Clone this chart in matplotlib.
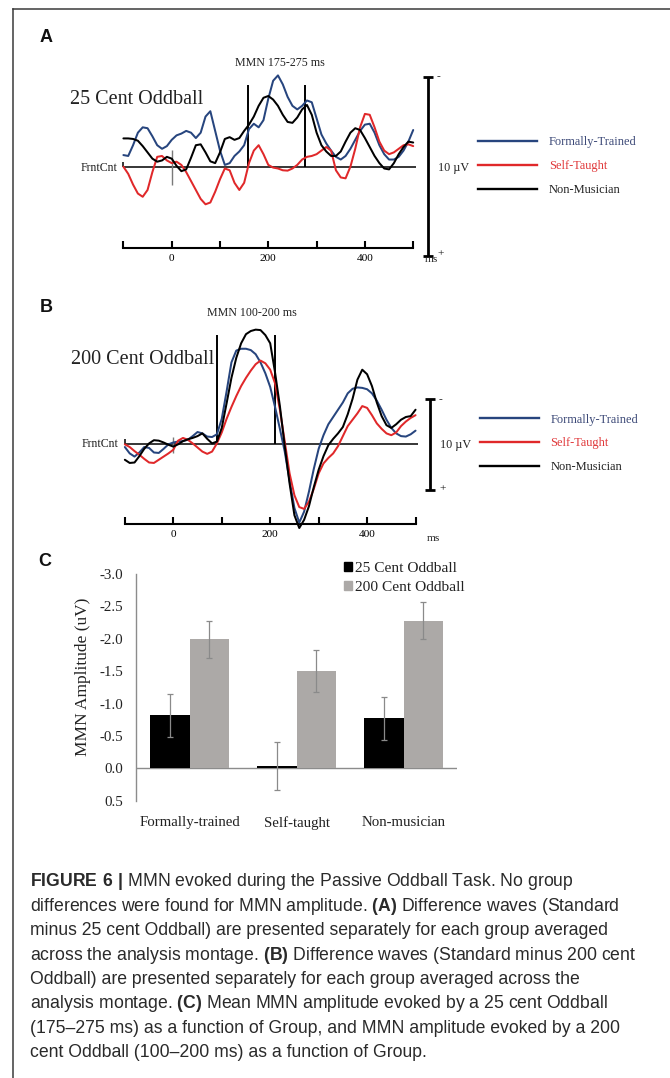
import numpy as np
import matplotlib
matplotlib.use("Agg")
import matplotlib.pyplot as plt
from matplotlib.lines import Line2D
from matplotlib.patches import Patch
from matplotlib.ticker import FormatStrFormatter

plt.rcParams['axes.unicode_minus'] = False
plt.rcParams['mathtext.fontset'] = 'custom'
plt.rcParams['mathtext.bf'] = 'Liberation Sans:bold'
plt.rcParams['mathtext.rm'] = 'Liberation Sans'

SERIF = 'Liberation Serif'
SANS = 'Liberation Sans'

# ---------------- data ----------------
groups = ['Formally-Trained', 'Self-Taught', 'Non-Musician']
line_colors = ['#27457e', '#e0282a', '#000000']
text_colors = ['#3d4a78', '#e0383a', '#222222']

t_ms = np.arange(-100, 501, 10)

# Panel A: Standard minus 25 cent Oddball (uV, negative up)
ft25 = [-0.65, -0.6, -1.2, -1.9, -2.2, -2.15, -1.7, -1.2, -1.0, -1.15,
        -1.5, -1.75, -1.85, -2.0, -1.9, -1.6, -1.9, -2.8, -3.1, -2.0,
        -0.9, -0.1, -0.2, -0.6, -0.85, -1.2, -2.1, -2.4, -2.2, -2.6,
        -3.8, -4.8, -5.1, -4.6, -3.9, -3.4, -3.2, -3.4, -3.7, -3.6,
        -2.7, -1.8, -1.3, -0.9, -0.55, -0.4, -0.6, -1.0, -1.5, -2.0,
        -2.35, -2.4, -1.9, -1.2, -0.7, -0.4, -0.4, -0.55, -0.9, -1.4,
        -2.05]
st25 = [0.0, 0.4, 1.0, 1.5, 1.68, 1.3, 0.3, -0.55, -0.6, -0.35,
        -0.2, -0.28, -0.1, 0.3, 0.8, 1.3, 1.8, 2.1, 2.0, 1.4,
        0.7, 0.1, 0.2, 0.9, 1.3, 0.9, -0.2, -0.9, -1.2, -0.7,
        -0.1, 0.05, 0.1, 0.2, 0.22, 0.1, -0.1, -0.4, -0.55, -0.6,
        -0.7, -0.9, -1.1, -0.9, 0.2, 0.6, 0.65, 0.0, -1.0, -2.2,
        -2.95, -2.9, -2.2, -1.4, -0.9, -0.7, -0.8, -1.0, -1.2, -1.25,
        -1.15]
nm25 = [-1.58, -1.58, -1.55, -1.45, -1.15, -0.8, -0.45, -0.28, -0.35, -0.55,
        -0.45, -0.05, 0.25, 0.15, -0.5, -1.2, -1.25, -0.8, -0.3, -0.2,
        -0.8, -1.55, -1.65, -1.5, -1.6, -2.0, -2.35, -2.8, -3.4, -3.85,
        -3.95, -3.75, -3.4, -2.9, -2.5, -2.45, -2.75, -3.2, -3.45, -2.9,
        -1.9, -1.2, -0.85, -0.6, -0.6, -0.85, -1.4, -1.9, -2.15, -2.05,
        -1.6, -1.1, -0.6, -0.2, 0.1, 0.15, -0.2, -0.7, -1.1, -1.4,
        -1.35]

# Panel B: Standard minus 200 cent Oddball
ft200 = [0.3, 1.0, 1.35, 0.9, 0.3, 0.4, 0.9, 0.95, 0.5, 0.0,
         -0.2, -0.3, -0.35, -0.5, -0.9, -1.35, -1.2, -0.85, -0.8, -1.1,
         -2.8, -5.8, -9.0, -10.3, -10.5, -10.5, -10.35, -9.9, -9.0, -7.8,
         -6.3, -4.1, -1.7, 0.8, 4.0, 7.0, 8.6, 7.4, 5.2, 2.7,
         0.5, -1.0, -2.2, -3.0, -3.8, -4.6, -5.6, -6.1, -6.25, -6.2,
         -6.05, -5.6, -4.8, -3.8, -2.7, -1.8, -1.2, -0.9, -0.85, -1.1,
         -1.5]
st200 = [0.0, 0.3, 0.75, 1.15, 1.6, 2.0, 2.05, 1.7, 1.35, 1.0,
         0.6, -0.4, -0.7, -0.5, -0.1, 0.35, 0.8, 1.05, 0.8, -0.1,
         -1.3, -2.8, -4.1, -5.3, -6.4, -7.3, -8.1, -8.8, -9.2, -8.9,
         -8.2, -6.7, -3.8, -0.3, 3.2, 5.6, 6.9, 7.1, 6.3, 4.9,
         3.2, 2.1, 1.5, 1.0, 0.2, -0.9, -2.0, -2.7, -3.4, -4.2,
         -4.0, -3.2, -2.3, -1.7, -1.2, -1.0, -1.3, -2.0, -2.5, -2.9,
         -3.2]
nm200 = [1.7, 2.05, 2.0, 1.3, 0.5, -0.1, -0.45, -0.4, -0.2, 0.05,
         0.25, 0.0, -0.35, -0.55, -0.7, -0.9, -1.2, -0.6, -0.1, -0.3,
         -1.8, -4.5, -7.3, -9.5, -11.1, -12.1, -12.45, -12.6, -12.55, -12.0,
         -11.1, -7.9, -4.2, 0.2, 4.3, 7.8, 9.2, 8.3, 6.8, 4.7,
         2.8, 1.3, 0.1, -0.6, -1.2, -1.9, -3.3, -5.0, -7.1, -8.2,
         -7.7, -6.4, -4.6, -3.1, -2.1, -1.8, -2.2, -2.7, -3.0, -3.1,
         -3.8]

# Panel C: mean MMN amplitude
categories = ['Formally-trained', 'Self-taught', 'Non-musician']
conditions = ['25 Cent Oddball', '200 Cent Oddball']
amp25 = [-0.82, -0.03, -0.77]
err25 = [0.33, 0.37, 0.33]
amp200 = [-1.99, -1.50, -2.28]
err200 = [0.29, 0.32, 0.29]
yticks_c = [-3.0, -2.5, -2.0, -1.5, -1.0, -0.5, 0.0, 0.5]
xticks_ms = [-100, 0, 100, 200, 300, 400, 500]
xtick_labels_ms = ['', '0', '', '200', '', '400', '']

# ---------------- figure ----------------
W, H = 670, 1078
fig = plt.figure(figsize=(W / 100, H / 100), dpi=100)


def fx(x):
    return x / W


def fy(y):
    return 1 - y / H


def wave_axes(box, x0, sx, y0, sy):
    l, t, r, b = box
    ax = fig.add_axes([fx(l), fy(b), (r - l) / W, (b - t) / H])
    ax.set_xlim((l - x0) / sx, (r - x0) / sx)
    ax.set_ylim((b - y0) / sy, (t - y0) / sy)
    ax.patch.set_visible(False)
    for s in ['top', 'right', 'left']:
        ax.spines[s].set_visible(False)
    ax.set_yticks([])
    return ax


def wave_panel(ax, series, axis_uv, win, win_top, zero_tick, cal_ms, tick_up,
               title, mmn_text, mmn_xy, title_xy, leg_xy, uv_xy, ms_xy, plus_xy,
               minus_xy, frnt_xy, start_tick):
    for vals, c in zip(series, line_colors):
        ax.plot(t_ms, vals, color=c, lw=1.45, solid_capstyle='round', zorder=3)
    # baseline
    ax.hlines(0, t_ms[0], t_ms[-1] + 5, color='black', lw=1.1, zorder=2)
    ax.vlines(t_ms[0], -start_tick, 0, color='black', lw=1.1)
    # zero tick (grey)
    ax.vlines(0, zero_tick[0], zero_tick[1], color='#7a7a7a', lw=1.0, zorder=2)
    # MMN window
    ax.vlines(win, win_top, 0, color='black', lw=1.4, zorder=2)
    # x axis (bottom spine placed at data level)
    sp = ax.spines['bottom']
    sp.set_position(('data', axis_uv))
    sp.set_bounds(t_ms[0], t_ms[-1])
    sp.set_linewidth(1.5)
    ax.set_xticks(xticks_ms)
    ax.set_xticklabels(xtick_labels_ms, fontsize=8.2, family=SERIF)
    ax.tick_params(axis='x', direction='in', length=tick_up, width=1.5, pad=4)
    # calibration bar
    ax.vlines(cal_ms, -5, 5, color='black', lw=2.0, clip_on=False)
    ax.hlines([-5, 5], cal_ms - 10, cal_ms + 10, color='black', lw=2.0, clip_on=False)
    # texts (pixel positions)
    fig.text(fx(mmn_xy[0]), fy(mmn_xy[1]), mmn_text, fontsize=8.6, family=SERIF,
             ha='center', va='center', color='#222222')
    fig.text(fx(title_xy[0]), fy(title_xy[1]), title, fontsize=14.5, family=SERIF,
             ha='left', va='center', color='#222222')
    fig.text(fx(frnt_xy[0]), fy(frnt_xy[1]), 'FrntCnt', fontsize=8.6, family=SERIF,
             ha='right', va='center', color='#222222')
    fig.text(fx(uv_xy[0]), fy(uv_xy[1]), '10 µV', fontsize=8.7, family=SERIF,
             ha='left', va='center', color='#222222')
    fig.text(fx(ms_xy[0]), fy(ms_xy[1]), 'ms', fontsize=8.2, family=SERIF,
             ha='left', va='center', color='#222222')
    fig.text(fx(plus_xy[0]), fy(plus_xy[1]), '+', fontsize=8.2, family=SERIF,
             ha='left', va='center', color='#222222')
    fig.text(fx(minus_xy[0]), fy(minus_xy[1]), '-', fontsize=8.2, family=SERIF,
             ha='left', va='center', color='#222222')
    handles = [Line2D([], [], color=c, lw=1.7) for c in line_colors]
    leg = ax.legend(handles, groups, loc='upper left',
                    bbox_to_anchor=(fx(leg_xy[0]), fy(leg_xy[1])),
                    bbox_transform=fig.transFigure, frameon=False,
                    prop={'family': SERIF, 'size': 8.9},
                    handlelength=4.75, handletextpad=0.95, labelspacing=0.97,
                    borderpad=0, borderaxespad=0)
    for t, c in zip(leg.get_texts(), text_colors):
        t.set_color(c)


# Panel A
axA = wave_axes((55, 25, 668, 280), 171.7, 0.483, 166.7, 17.9)
wave_panel(axA, [ft25, st25, nm25], axis_uv=4.56, win=[157, 277], win_top=-4.56,
           zero_tick=(-0.93, 1.02), cal_ms=531, tick_up=5,
           title='25 Cent Oddball', mmn_text='MMN 175-275 ms', mmn_xy=(280, 62.7),
           title_xy=(70, 100), leg_xy=(478.3, 136.5), uv_xy=(438, 168),
           ms_xy=(425, 259), plus_xy=(437, 254), minus_xy=(436.5, 77),
           frnt_xy=(118, 168), start_tick=0.28)

# Panel B
axB = wave_axes((55, 300, 668, 545), 173.3, 0.4845, 444.3, 9.1)
wave_panel(axB, [ft200, st200, nm200], axis_uv=8.79, win=[90, 210], win_top=-12.0,
           zero_tick=(-0.84, 1.0), cal_ms=530, tick_up=5,
           title='200 Cent Oddball', mmn_text='MMN 100-200 ms', mmn_xy=(251.7, 312.7),
           title_xy=(70.7, 360), leg_xy=(480, 413.5), uv_xy=(440, 445),
           ms_xy=(427, 538.3), plus_xy=(439, 488.5), minus_xy=(439, 399.5),
           frnt_xy=(119, 444.3), start_tick=0.55)

# Panel C
axC = fig.add_axes([fx(136), fy(800.7), (457.3 - 136) / W, (800.7 - 574) / H])
xpos = np.arange(len(categories))
bw = 0.367
ekw = dict(ecolor='#8a8a8a', elinewidth=0.9, capsize=2.2, capthick=0.9)
axC.bar(xpos - bw / 2, amp25, bw, yerr=err25, color='black', error_kw=ekw,
        label=conditions[0], zorder=2)
axC.bar(xpos + bw / 2, amp200, bw, yerr=err200, color='#aca9a7', error_kw=ekw,
        label=conditions[1], zorder=2)
axC.set_xlim(-0.5, 2.5)
axC.set_ylim(0.5, -3.0)
axC.axhline(0, color='#8c8c8c', lw=1.0, zorder=1)
for s in ['top', 'right', 'bottom']:
    axC.spines[s].set_visible(False)
axC.spines['left'].set_color('#8c8c8c')
axC.spines['left'].set_linewidth(1.0)
axC.set_yticks(yticks_c)
axC.yaxis.set_major_formatter(FormatStrFormatter('%.1f'))
axC.tick_params(axis='y', length=0, pad=9, labelsize=10.8, labelcolor='#222222')
for lab in axC.get_yticklabels():
    lab.set_family(SERIF)
axC.set_xticks(xpos)
axC.set_xticklabels(categories, family=SERIF, fontsize=10.7, color='#222222')
axC.tick_params(axis='x', length=0, pad=11)
axC.set_ylabel('MMN Amplitude (uV)', family=SERIF, fontsize=12.5, color='#222222',
               va='center')
axC.yaxis.set_label_coords(-(136 - 83.3) / (457.3 - 136), (800.7 - 676.7) / (800.7 - 574))
legC = axC.legend([Patch(color='black'), Patch(color='#aca9a7')], conditions,
                  loc='upper left', bbox_to_anchor=(fx(343.5), fy(561.5)),
                  bbox_transform=fig.transFigure, frameon=False,
                  prop={'family': SERIF, 'size': 11.1},
                  handlelength=0.52, handleheight=0.56, handletextpad=0.22,
                  labelspacing=0.38, borderpad=0, borderaxespad=0)
for t in legC.get_texts():
    t.set_color('#222222')

# Panel letters
for letter, (lx, ly) in zip(['A', 'B', 'C'], [(46.5, 37), (46.5, 307), (45, 562)]):
    fig.text(fx(lx), fy(ly), letter, fontsize=13, fontweight='bold', family=SANS,
             ha='center', va='center', color='#111111')

# Border
fig.add_artist(Line2D([fx(13), fx(13)], [fy(9), 0], color='#3a3a3a', lw=1.1))
fig.add_artist(Line2D([fx(13), 1], [fy(9), fy(9)], color='#3a3a3a', lw=1.1))

# Caption
caption = [
    r'$\mathbf{FIGURE\ 6\ |}$ MMN evoked during the Passive Oddball Task. No group',
    r'differences were found for MMN amplitude. $\mathbf{(A)}$ Difference waves (Standard',
    'minus 25 cent Oddball) are presented separately for each group averaged',
    r'across the analysis montage. $\mathbf{(B)}$ Difference waves (Standard minus 200 cent',
    'Oddball) are presented separately for each group averaged across the',
    r'analysis montage. $\mathbf{(C)}$ Mean MMN amplitude evoked by a 25 cent Oddball',
    '(175–275 ms) as a function of Group, and MMN amplitude evoked by a 200',
    'cent Oddball (100–200 ms) as a function of Group.',
]
for i, line in enumerate(caption):
    fig.text(fx(30), fy(886.5 + 24.4 * i), line, fontsize=12.7, family=SANS,
             ha='left', va='baseline', color='#2a2a2a')

fig.savefig('out.png', dpi=100)
